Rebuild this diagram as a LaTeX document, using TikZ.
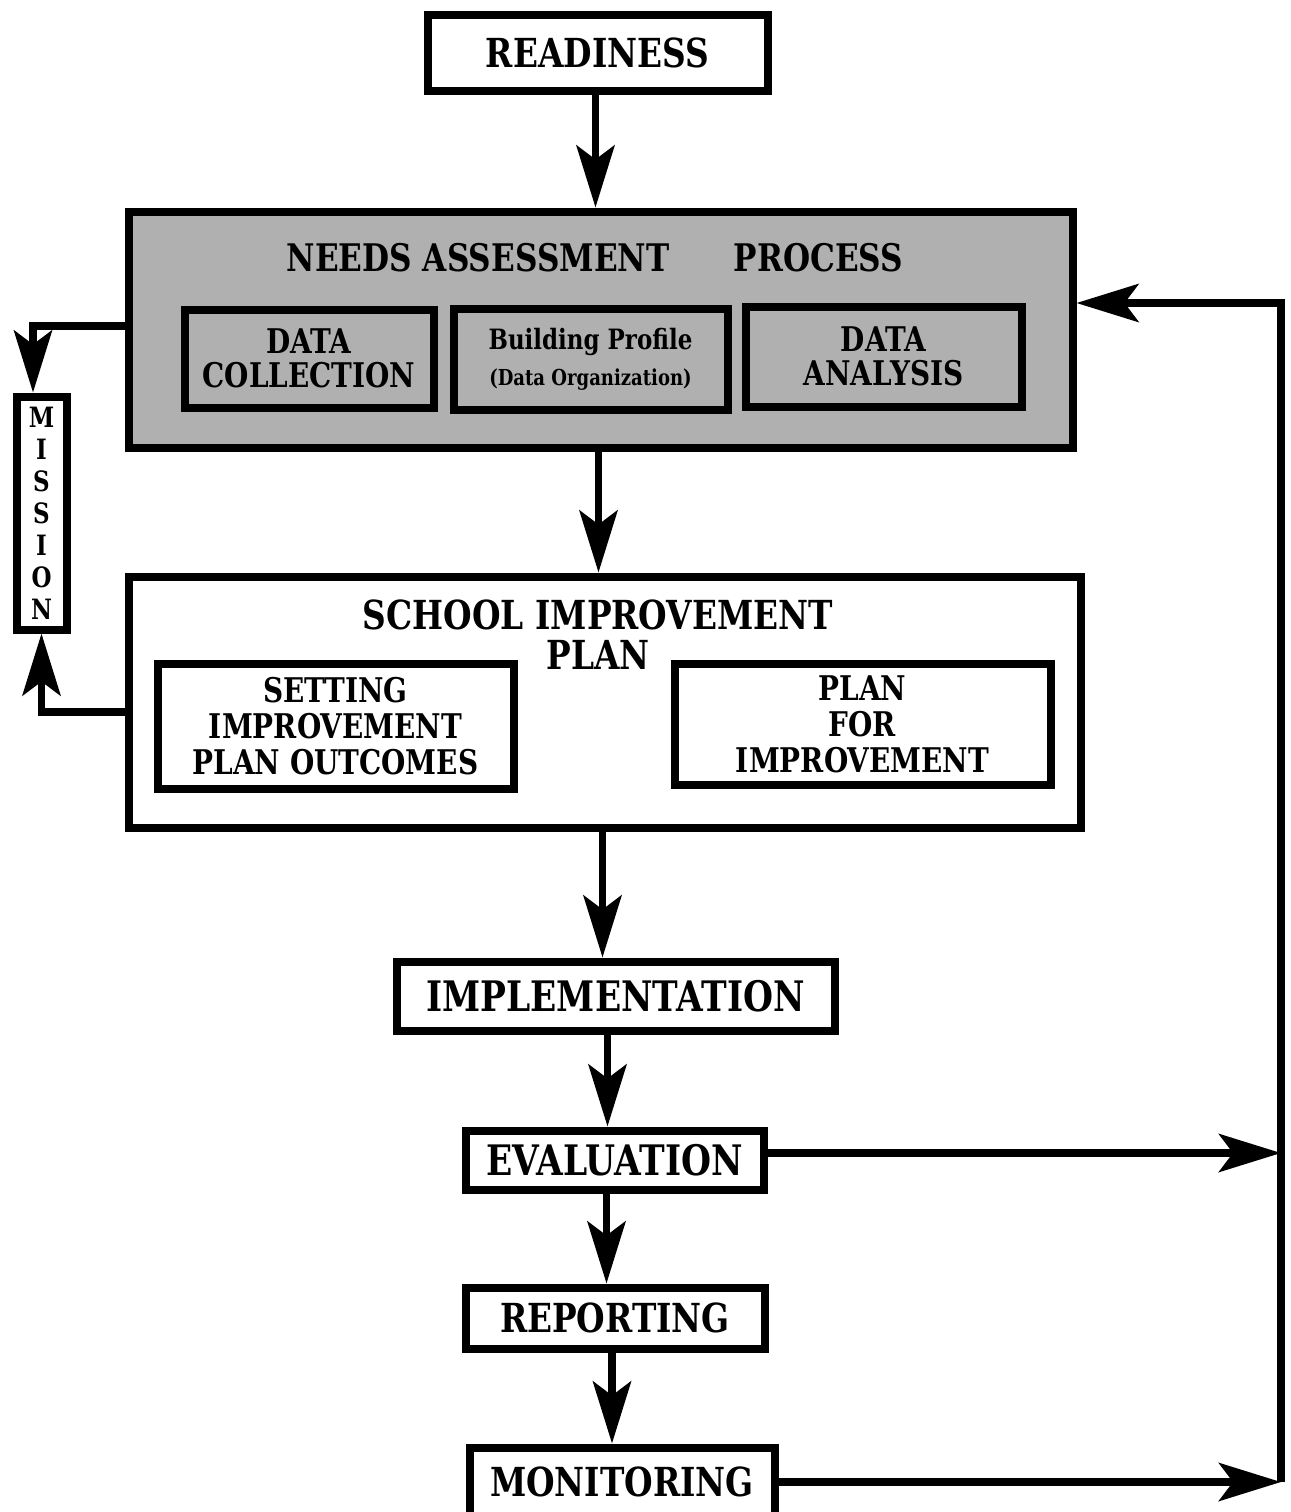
\documentclass[tikz,border=0pt]{standalone}
\usepackage{fontspec}
\setmainfont{DejaVu Serif}[FakeStretch=0.82]
\usepackage{tikz}
\usetikzlibrary{arrows.meta,positioning,calc}
\definecolor{shadeGray}{HTML}{B0B0B0}
\tikzset{
  pbox/.style={draw,line width=4pt,align=center,inner sep=0pt,
    font=\bfseries\fontsize{20}{22}\selectfont},
  pshade/.style={pbox,fill=shadeGray},
  psub/.style={pbox,font=\bfseries\fontsize{17}{17}\selectfont},
  pplan/.style={pbox,font=\bfseries\fontsize{17}{18}\selectfont},
  ptitle/.style={align=center,inner sep=0pt,font=\bfseries\fontsize{19}{20}\selectfont},
  pflow/.style={-{Stealth[length=31pt,width=19pt,inset=7pt]},line width=3.8pt},
}

\begin{document}
\begin{tikzpicture}[x=0.5pt,y=-0.5pt]
\useasboundingbox (0,0) rectangle (1291,1512);
% top of the cycle
\node[pbox,minimum width=170pt,minimum height=38pt] (ready) at (597.5,52.5) {READINESS};
\node[pshade,minimum width=472pt,minimum height=118pt] (needs) at (600.5,329.5) {};
\node[ptitle] (needstitle) at (595,258) {NEEDS ASSESSMENT\hspace{1.7em}PROCESS};
\node[psub,fill=shadeGray,minimum width=124.5pt,minimum height=49pt] (collect) at (309,358.5) {DATA\\COLLECTION};
\node[psub,fill=shadeGray,minimum width=137pt,minimum height=50.5pt] (profile) at (590.5,359)
  {{\fontsize{14}{16}\selectfont Building Profile}\\[1pt]{\fontsize{11}{13}\selectfont (Data Organization)}};
\node[psub,fill=shadeGray,minimum width=138pt,minimum height=50pt] (analysis) at (883.5,356.5) {DATA\\ANALYSIS};
% mission
\node[pbox,minimum width=25pt,minimum height=116.5pt,font=\bfseries\fontsize{14}{16}\selectfont]
  (mission) at (41.5,513) {M\\I\\S\\S\\I\\O\\N};
% plan
\node[pbox,minimum width=476pt,minimum height=125.5pt] (sip) at (604.5,702) {};
\node[ptitle,font=\bfseries\fontsize{20}{20}\selectfont] (siptitle) at (598,635) {SCHOOL IMPROVEMENT\\PLAN};
\node[pplan,minimum width=178pt,minimum height=62.5pt] (outcomes) at (335.5,726) {SETTING\\IMPROVEMENT\\PLAN OUTCOMES};
\node[pplan,minimum width=188pt,minimum height=60.5pt] (planfor) at (862.5,724) {PLAN\\FOR\\IMPROVEMENT};
% lower steps
\node[pbox,minimum width=219pt,minimum height=34.5pt,font=\bfseries\fontsize{21}{22}\selectfont] (impl) at (615.5,996) {IMPLEMENTATION};
\node[pbox,minimum width=149pt,minimum height=29.5pt,font=\bfseries\fontsize{21}{22}\selectfont] (eval) at (614.5,1160) {EVALUATION};
\node[pbox,minimum width=149.5pt,minimum height=30.5pt] (report) at (615,1318) {REPORTING};
\node[pbox,minimum width=152.5pt,minimum height=34.5pt] (monitor) at (622,1482) {MONITORING};
\coordinate (looptop) at (1281,303);
\coordinate (loopbot) at (1281,1480);
% connectors
\draw[pflow] ([xshift=-1pt]ready.south) -- ([xshift=-1pt]ready.south |- needs.north);
\draw[pflow] ([xshift=-1pt]needs.south) -- ([xshift=-1pt]needs.south |- sip.north);
\draw[pflow] ([xshift=-1pt]sip.south) -- ([xshift=-1pt]sip.south |- impl.north);
\draw[pflow] ([xshift=-4pt]impl.south) -- ([xshift=-4pt]impl.south |- eval.north);
\draw[pflow] ([xshift=-4pt]eval.south) -- ([xshift=-4pt]eval.south |- report.north);
\draw[pflow] ([xshift=-1.5pt]report.south) -- ([xshift=-1.5pt]report.south |- monitor.north);
\draw[pflow] ([yshift=1.75pt]needs.west) -| ([xshift=-4.25pt]mission.north);
\draw[pflow] ([yshift=-5pt]sip.west) -| (mission.south);
\draw[pflow] ([yshift=3.5pt]eval.east) -- ([yshift=3.5pt]eval.east -| loopbot);
\draw[pflow] (monitor.east) -- (monitor.east -| loopbot);
\draw[pflow] (monitor.east -| loopbot) -- (looptop) -- (looptop -| needs.east);
\end{tikzpicture}
\end{document}
